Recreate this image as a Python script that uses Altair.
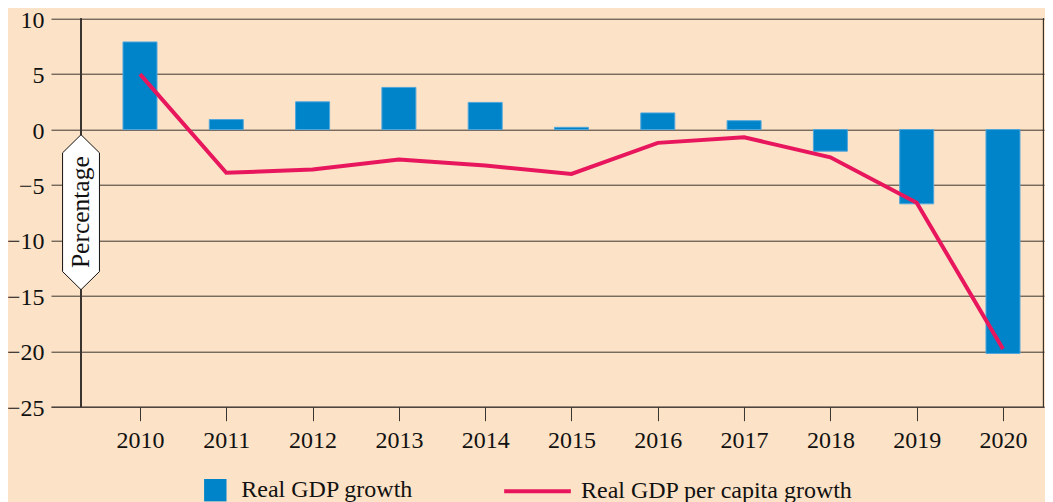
import altair as alt
import pandas as pd

years = [2010, 2011, 2012, 2013, 2014, 2015, 2016, 2017, 2018, 2019, 2020]
gdp_growth = [7.9, 0.9, 2.5, 3.8, 2.45, 0.2, 1.5, 0.8, -1.95, -6.7, -20.2]
per_capita_growth = [5.0, -3.9, -3.6, -2.7, -3.25, -4.0, -1.2, -0.7, -2.5, -6.6, -19.8]
y_ticks = [-25, -20, -15, -10, -5, 0, 5, 10]
series_bar = "Real GDP growth"
series_line = "Real GDP per capita growth"
axis_title = "Percentage"

df = pd.DataFrame({"year": years, "growth": gdp_growth, "percap": per_capita_growth})

BG = "#FCE2C6"
BLUE = "#0084C9"
RED = "#E8175D"
GRID = "#3a3430"
FONT = "Liberation Serif"
FS = 24

W, H = 993, 388

xscale = alt.Scale(domain=[2008.969, 2020.475], nice=False, zero=False, padding=0)
yscale = alt.Scale(domain=[-25, 10], nice=False, zero=False, padding=0)

xaxis = alt.Axis(values=years, format="d", grid=False, domain=True, domainColor=GRID,
                 domainWidth=1, ticks=True, tickSize=14, tickColor=GRID, tickWidth=1,
                 labelPadding=8, title=None, labelFont=FONT, labelFontSize=FS,
                 labelColor="#111111", labelAngle=0)
yaxis = alt.Axis(values=y_ticks, grid=True, gridColor=GRID, gridWidth=1, domain=False,
                 ticks=False, labelPadding=7, labelOffset=1.5, title=None, labelFont=FONT,
                 labelFontSize=FS, labelColor="#111111")

base = alt.Chart(df)

bars = base.transform_calculate(series=f"'{series_bar}'").mark_bar(
    size=34, stroke="#4FA6DC", strokeWidth=1
).encode(
    x=alt.X("year:Q", scale=xscale, axis=xaxis),
    y=alt.Y("growth:Q", scale=yscale, axis=yaxis),
    y2=alt.datum(0),
    fill=alt.Fill("series:N", scale=alt.Scale(domain=[series_bar], range=[BLUE]),
                  legend=alt.Legend(title=None, orient="none", legendX=152.3, legendY=459.5,
                                    symbolType="square", symbolSize=502, symbolStrokeWidth=0,
                                    labelFont=FONT, labelFontSize=FS, labelColor="#111111",
                                    labelOffset=14, labelLimit=1000, padding=0)),
)

line = base.transform_calculate(series=f"'{series_line}'").mark_line(
    strokeWidth=4, strokeJoin="miter"
).encode(
    x=alt.X("year:Q", scale=xscale),
    y=alt.Y("percap:Q", scale=yscale),
    stroke=alt.Stroke("series:N", scale=alt.Scale(domain=[series_line], range=[RED]),
                      legend=alt.Legend(title=None, orient="none", legendX=451, legendY=437,
                                        symbolType="stroke", symbolSize=4449,
                                        symbolStrokeWidth=4, labelFont=FONT,
                                        labelFontSize=FS, labelColor="#111111",
                                        labelOffset=8, labelLimit=1000, padding=0)),
)

left_rule = base.mark_rule(color=GRID, strokeWidth=1).encode(
    x=alt.value(30), y=alt.value(0), y2=alt.value(H)
)
right_rule = base.mark_rule(color=GRID, strokeWidth=1).encode(
    x=alt.value(W - 0.5), y=alt.value(0), y2=alt.value(H)
)

box_path = "M 0 -1 L 0.238 -0.766 L 0.238 0.766 L 0 1 L -0.238 0.766 L -0.238 -0.766 Z"
label_df = pd.DataFrame({"t": [axis_title]})
box = alt.Chart(label_df).mark_point(
    shape=box_path, size=155 * 155, filled=True, fill="white", stroke="#111111",
    strokeWidth=1, opacity=1
).encode(x=alt.value(30), y=alt.value(193.5))
box_text = alt.Chart(label_df).mark_text(
    angle=270, font=FONT, fontSize=25.5, color="#111111", align="center", baseline="middle"
).encode(x=alt.value(30), y=alt.value(193.5), text="t:N")

chart = alt.layer(left_rule, right_rule, bars, line, box, box_text).resolve_legend(
    fill="independent", stroke="independent"
).properties(
    width=W, height=H, background=BG,
    autosize=alt.AutoSizeParams(type="none"),
    padding={"left": 43, "top": 10.7, "right": 1, "bottom": 95},
).configure_view(strokeWidth=0)

chart.save("out.html", embed_options={"renderer": "svg", "actions": False})
